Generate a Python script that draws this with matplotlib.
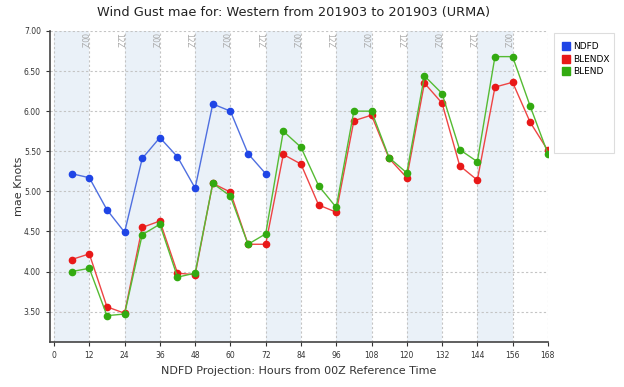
import numpy as np
from matplotlib import pyplot as plt
from matplotlib.patches import Rectangle

# 预报时效（小时）
hours = list(range(6, 169, 6))
ndfd_hours = list(range(6, 73, 6))

# NDFD 平均绝对误差
ndfd = [5.22, 5.17, 4.77, 4.49, 5.41, 5.67, 5.43, 5.04, 6.09, 6.00, 5.47, 5.22]
# BLENDX
blendx = [4.15, 4.22, 3.56, 3.48, 4.55, 4.63, 3.98, 3.96, 5.10, 4.99, 4.34, 4.34,
          5.46, 5.34, 4.83, 4.74, 5.88, 5.95, 5.41, 5.17, 6.35, 6.10, 5.32, 5.14,
          6.30, 6.36, 5.86, 5.51]
# BLEND
blend = [4.00, 4.04, 3.45, 3.47, 4.46, 4.59, 3.93, 3.98, 5.10, 4.94, 4.34, 4.47,
         5.75, 5.55, 5.07, 4.80, 6.00, 6.00, 5.42, 5.23, 6.44, 6.22, 5.52, 5.37,
         6.68, 6.68, 6.06, 5.47]

xticks = list(range(0, 169, 12))
yticks = [3.5, 4.0, 4.5, 5.0, 5.5, 6.0, 6.5, 7.0]

fig = plt.figure(figsize=(6.24, 3.87), dpi=100)
ax = fig.add_axes([0.080, 0.116, 0.798, 0.804])

# 阴影带
for s in range(0, 168, 24):
    ax.axvspan(s, s + 12, color="#eaf1f8", zorder=0, lw=0)

# 时间标签
for i, h in enumerate(xticks[1:-1]):
    lab = "00Z" if i % 2 == 0 else "12Z"
    ax.text(h - 0.6, 6.98, lab, rotation=-90, ha="right", va="top",
            fontsize=5.5, color="#aaaaaa")

ax.grid(True, color="#c4c4c4", linestyle=(0, (2, 2)), linewidth=0.8)
ax.set_axisbelow(True)

ax.plot(ndfd_hours, ndfd, color="#4f6fe0", lw=1, marker="o", ms=4.5,
        mfc="#1f45e6", mec="#1f45e6", label="NDFD")
ax.plot(hours, blendx, color="#ee4444", lw=1, marker="o", ms=4.5,
        mfc="#e81818", mec="#e81818", label="BLENDX")
ax.plot(hours, blend, color="#55bb33", lw=1, marker="o", ms=4.5,
        mfc="#33aa11", mec="#33aa11", label="BLEND")

ax.set_xlim(-1.4, 168)
ax.set_ylim(3.12, 7.0)
ax.set_xticks(xticks)
ax.set_yticks(yticks)
ax.set_yticklabels(["%.2f" % v for v in yticks])
ax.tick_params(labelsize=5.5, colors="#333333", length=3)
ax.spines["top"].set_visible(False)
ax.spines["right"].set_visible(False)
ax.spines["left"].set_color("#444444")
ax.spines["bottom"].set_color("#444444")
ax.spines["left"].set_linewidth(1.2)
ax.spines["bottom"].set_linewidth(1.2)

ax.set_xlabel("NDFD Projection: Hours from 00Z Reference Time", fontsize=8, color="#333333")
ax.set_ylabel("mae Knots", fontsize=8, color="#333333")
ax.yaxis.set_label_coords(-0.052, 0.5)
fig.suptitle("Wind Gust mae for: Western from 201903 to 201903 (URMA)",
             x=0.47, y=0.985, fontsize=9.3, color="#222222")

# 图例框
fig.patches.append(Rectangle((554 / 624, 1 - 153 / 387), 60 / 624, 120 / 387,
                             transform=fig.transFigure, fill=False,
                             edgecolor="#dddddd", lw=0.8))
leg = ax.legend(loc="upper left", bbox_to_anchor=(555 / 624, 1 - 35 / 387),
                bbox_transform=fig.transFigure, fontsize=6.5,
                handlelength=0.8, handleheight=0.8, frameon=False,
                borderpad=0.3, labelspacing=0.4, handletextpad=0.4)
for h in leg.legend_handles:
    h.set_marker("s")
    h.set_linestyle("")
    h.set_markersize(6)

plt.savefig("out.png")
